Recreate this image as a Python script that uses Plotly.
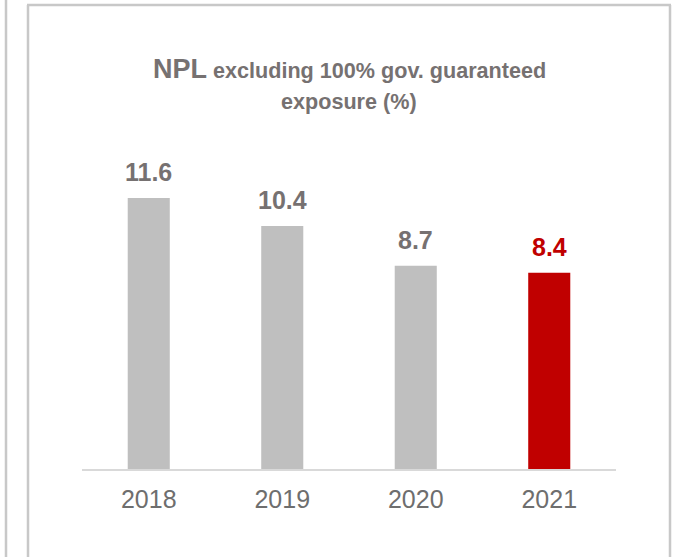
import plotly.graph_objects as go

# ---- data ----
years = ["2018", "2019", "2020", "2021"]
npl_values = [11.6, 10.4, 8.7, 8.4]
value_labels = ["11.6", "10.4", "8.7", "8.4"]
bar_colors = ["#bfbfbf", "#bfbfbf", "#bfbfbf", "#c00000"]
label_colors = ["#767171", "#767171", "#767171", "#c00000"]

W, H = 674, 557
ML, MR, MT, MB = 82, 58, 142, 88
PW, PH = W - ML - MR, H - MT - MB
FONT = "Liberation Sans, Arial, sans-serif"
GRAY = "#767171"


def px(x):
    return (x - ML) / PW


def py(y):
    return (H - MB - y) / PH


fig = go.Figure()
fig.add_trace(go.Bar(
    x=years, y=npl_values,
    marker=dict(color=bar_colors, line=dict(width=0)),
    width=0.315,
    hoverinfo="skip",
))

annotations = []
# value labels: category index on the category axis (numeric-looking names would be read as indices)
for i, (v, t, c) in enumerate(zip(npl_values, value_labels, label_colors)):
    annotations.append(dict(
        x=i, y=v, xref="x", yref="y", text=f"<b>{t}</b>",
        showarrow=False, yanchor="middle", yshift=26,
        font=dict(family=FONT, size=25, color=c),
    ))

annotations.append(dict(
    x=0.5, y=py(69), xref="paper", yref="paper", xanchor="center", yanchor="middle",
    text="<b><span style='font-size:27px'>NPL</span> excluding 100% gov. guaranteed</b>",
    showarrow=False, font=dict(family=FONT, size=21.6, color=GRAY),
))
annotations.append(dict(
    x=0.5, y=py(101), xref="paper", yref="paper", xanchor="center", yanchor="middle",
    text="<b>exposure (%)</b>",
    showarrow=False, font=dict(family=FONT, size=21.6, color=GRAY),
))

shapes = [
    # outer frame (open at bottom)
    dict(type="line", xref="paper", yref="paper", x0=px(28), x1=px(28), y0=py(5), y1=py(570),
         line=dict(color="#c8c8c8", width=2.5)),
    dict(type="line", xref="paper", yref="paper", x0=px(670), x1=px(670), y0=py(5), y1=py(570),
         line=dict(color="#c8c8c8", width=2.5)),
    dict(type="line", xref="paper", yref="paper", x0=px(27), x1=px(671), y0=py(5), y1=py(5),
         line=dict(color="#c8c8c8", width=2.5)),
    # neighbouring panel edge on the left
    dict(type="line", xref="paper", yref="paper", x0=px(6), x1=px(6), y0=py(-5), y1=py(570),
         line=dict(color="#c8c8c8", width=2.5)),
]

fig.update_layout(
    width=W, height=H,
    margin=dict(l=ML, r=MR, t=MT, b=MB, pad=0),
    paper_bgcolor="white", plot_bgcolor="white",
    showlegend=False,
    bargap=0.685,
    xaxis=dict(
        type="category",
        range=[-0.5, len(years) - 0.5], autorange=False,
        showline=True, linecolor="#d9d9d9", linewidth=2,
        showgrid=False, zeroline=False,
        ticks="outside", ticklen=7, tickcolor="rgba(0,0,0,0)",
        tickfont=dict(family=FONT, size=25, color="#6e6e6e"),
    ),
    yaxis=dict(range=[0, 14], autorange=False, visible=False, showgrid=False, zeroline=False),
    annotations=annotations,
    shapes=shapes,
)

fig.write_html("out.html", config={"displayModeBar": False, "staticPlot": True})

# remove the browser's default page margin so the figure sits at the top-left corner
with open("out.html", "r", encoding="utf-8") as f:
    html = f.read()
html = html.replace("<body>", '<body style="margin:0;padding:0;overflow:hidden">', 1)
with open("out.html", "w", encoding="utf-8") as f:
    f.write(html)
